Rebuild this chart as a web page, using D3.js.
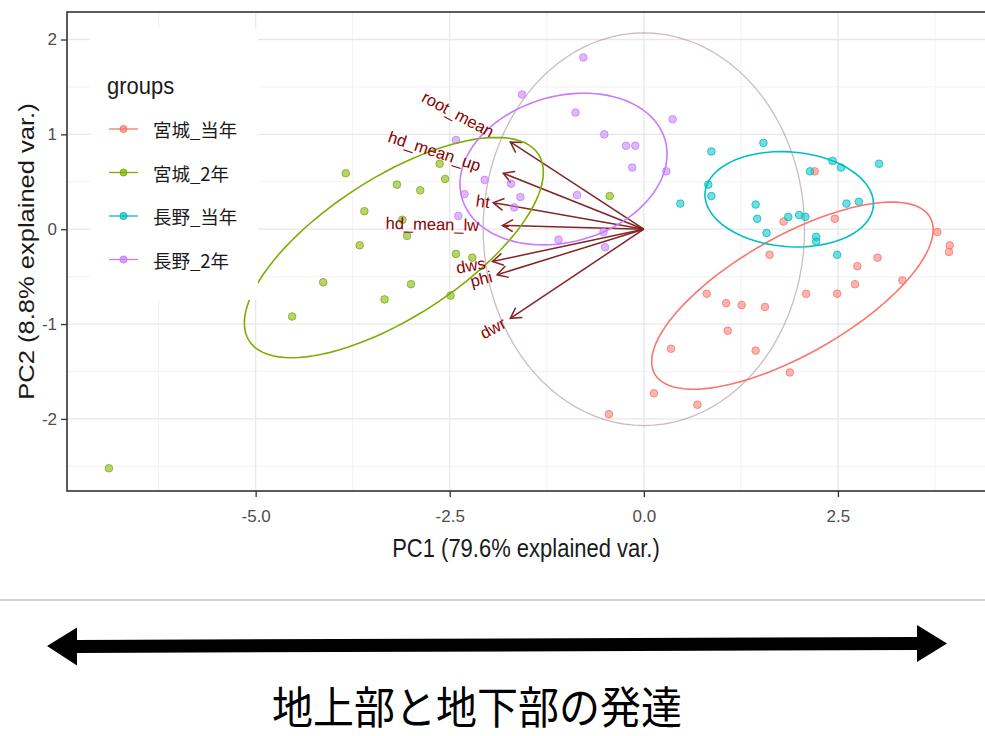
<!DOCTYPE html>
<html>
<head>
<meta charset="utf-8">
<script src="https://cdn.jsdelivr.net/npm/d3@7"></script>
<style>
  body { margin: 0; background: #fff; }
  svg { display: block; font-family: "Liberation Sans", Arial, sans-serif; }
</style>
</head>
<body>
<svg id="chart" width="985" height="736"></svg>
<script>
// groups and colours (ggplot hue palette)
var groups = ["宮城_当年", "宮城_2年", "長野_当年", "長野_2年"];
var groupColors = ["#F8766D", "#7CAE00", "#00BFC4", "#C77CFF"];

// PCA scores, [PC1, PC2]
var miyagiThisYear = [
  [2.20, 0.61], [1.80, 0.08], [2.46, 0.11], [3.78, -0.03], [3.94, -0.17], [3.93, -0.24],
  [1.62, -0.27], [3.01, -0.30], [2.75, -0.39], [3.33, -0.54], [2.72, -0.58], [2.09, -0.68],
  [2.49, -0.68], [0.81, -0.68], [1.06, -0.78], [1.26, -0.80], [1.56, -0.82], [1.08, -1.07],
  [0.35, -1.26], [1.44, -1.28], [1.88, -1.51], [0.13, -1.73], [0.69, -1.85], [-0.45, -1.95]
];
var miyagi2Year = [
  [-3.84, 0.59], [-3.18, 0.47], [-2.88, 0.41], [-2.63, 0.69], [-2.56, 0.53], [-3.60, 0.19],
  [-3.11, 0.10], [-3.05, -0.07], [-3.66, -0.17], [-2.42, -0.26], [-2.21, -0.30], [-4.13, -0.56],
  [-3.00, -0.58], [-3.34, -0.74], [-2.49, -0.70], [-4.53, -0.92], [-0.44, 0.35], [-6.89, -2.52]
];
var naganoThisYear = [
  [1.54, 0.91], [0.87, 0.82], [0.83, 0.47], [0.87, 0.35], [0.47, 0.27], [1.44, 0.26],
  [1.46, 0.11], [1.58, -0.04], [1.86, 0.13], [2.00, 0.15], [2.08, 0.13], [2.14, 0.61],
  [2.43, 0.72], [2.54, 0.65], [3.03, 0.69], [2.61, 0.27], [2.77, 0.29], [2.22, -0.08],
  [2.22, -0.13], [2.49, -0.27]
];
var nagano2Year = [
  [-0.78, 1.81], [-1.57, 1.42], [-0.88, 1.23], [0.37, 1.16], [-0.51, 1.00], [-0.23, 0.88],
  [-0.11, 0.88], [-0.15, 0.65], [0.29, 0.61], [-2.42, 0.94], [-2.05, 0.52], [-1.71, 0.48],
  [-1.59, 0.34], [-2.31, 0.37], [-1.67, 0.23], [-2.39, 0.14], [-0.86, 0.36], [-1.10, -0.11],
  [-0.50, -0.19], [-0.52, -0.03]
];
var groupScores = [miyagiThisYear, miyagi2Year, naganoThisYear, nagano2Year];

// variable loadings (arrow tips)
var varNames = ["root_mean", "hd_mean_up", "ht", "hd_mean_lw", "dws", "phi", "dwr"];
var varPC1 = [-1.72, -1.81, -1.94, -1.82, -1.95, -1.89, -1.72];
var varPC2 = [0.92, 0.59, 0.28, 0.04, -0.34, -0.48, -0.94];

var xTicks = [-5, -2.5, 0, 2.5];
var yTicks = [-2, -1, 0, 1, 2];
var xMinor = [-6.25, -3.75, -1.25, 1.25, 3.75];
var yMinor = [-2.5, -1.5, -0.5, 0.5, 1.5];

var svg = d3.select("#chart"),
    panel = { left: 67, top: 12, right: 987, bottom: 491 };

var x = d3.scaleLinear().domain([-7.43, 4.42]).range([panel.left, panel.right]);
var y = d3.scaleLinear().domain([-2.76, 2.29]).range([panel.bottom, panel.top]);

svg.append("rect").attr("width", 985).attr("height", 736).attr("fill", "#fff");

var g = svg.append("g");

// grid lines
g.selectAll(".xminor").data(xMinor).enter().append("line")
    .attr("x1", function (d) { return x(d); }).attr("x2", function (d) { return x(d); })
    .attr("y1", panel.top).attr("y2", panel.bottom)
    .attr("stroke", "#f2f2f2").attr("stroke-width", 1);
g.selectAll(".yminor").data(yMinor).enter().append("line")
    .attr("y1", function (d) { return y(d); }).attr("y2", function (d) { return y(d); })
    .attr("x1", panel.left).attr("x2", panel.right)
    .attr("stroke", "#f2f2f2").attr("stroke-width", 1);
g.selectAll(".xmajor").data(xTicks).enter().append("line")
    .attr("x1", function (d) { return x(d); }).attr("x2", function (d) { return x(d); })
    .attr("y1", panel.top).attr("y2", panel.bottom)
    .attr("stroke", "#e8e8e8").attr("stroke-width", 1.3);
g.selectAll(".ymajor").data(yTicks).enter().append("line")
    .attr("y1", function (d) { return y(d); }).attr("y2", function (d) { return y(d); })
    .attr("x1", panel.left).attr("x2", panel.right)
    .attr("stroke", "#e8e8e8").attr("stroke-width", 1.3);

// correlation circle, radius as ggbiplot computes it
var allScores = [].concat.apply([], groupScores);
var msX = d3.mean(allScores, function (d) { return d[0] * d[0]; }),
    msY = d3.mean(allScores, function (d) { return d[1] * d[1]; });
var circleR = Math.sqrt(-2 * Math.log(1 - 0.69)) * Math.pow(msX * msY, 0.25);
var theta = d3.range(0, 101).map(function (i) { return -Math.PI + i * 2 * Math.PI / 100; });
var line = d3.line().x(function (d) { return x(d[0]); }).y(function (d) { return y(d[1]); });
g.append("path")
    .attr("d", line(theta.map(function (t) { return [circleR * Math.cos(t), circleR * Math.sin(t)]; })))
    .attr("fill", "none").attr("stroke", "#8a5266").attr("stroke-opacity", 0.4).attr("stroke-width", 1.3);

// variable arrows
var arrowColor = "#832424";
varNames.forEach(function (name, i) {
    var x0 = x(0), y0 = y(0), x1 = x(varPC1[i]), y1 = y(varPC2[i]);
    var a = Math.atan2(y1 - y0, x1 - x0), len = 12, spread = Math.PI / 6;
    g.append("line").attr("x1", x0).attr("y1", y0).attr("x2", x1).attr("y2", y1)
        .attr("stroke", arrowColor).attr("stroke-width", 1.5);
    g.append("path")
        .attr("d", "M" + (x1 - len * Math.cos(a - spread)) + "," + (y1 - len * Math.sin(a - spread)) +
            "L" + x1 + "," + y1 +
            "L" + (x1 - len * Math.cos(a + spread)) + "," + (y1 - len * Math.sin(a + spread)))
        .attr("fill", "none").attr("stroke", arrowColor).attr("stroke-width", 1.5);
});

// points
groupScores.forEach(function (pts, gi) {
    g.selectAll(".pt" + gi).data(pts).enter().append("circle")
        .attr("cx", function (d) { return x(d[0]); })
        .attr("cy", function (d) { return y(d[1]); })
        .attr("r", 3.8)
        .attr("fill", groupColors[gi]).attr("fill-opacity", 0.55)
        .attr("stroke", groupColors[gi]).attr("stroke-opacity", 0.8).attr("stroke-width", 1);
});

// 68% normal ellipses per group (ggbiplot style)
var ed = Math.sqrt(-2 * Math.log(1 - 0.68));
groupScores.forEach(function (pts, gi) {
    var mx = d3.mean(pts, function (d) { return d[0]; }),
        my = d3.mean(pts, function (d) { return d[1]; }),
        n = pts.length;
    var sxx = d3.sum(pts, function (d) { return (d[0] - mx) * (d[0] - mx); }) / (n - 1),
        syy = d3.sum(pts, function (d) { return (d[1] - my) * (d[1] - my); }) / (n - 1),
        sxy = d3.sum(pts, function (d) { return (d[0] - mx) * (d[1] - my); }) / (n - 1);
    var ca = Math.sqrt(sxx), cb = sxy / ca, cc = Math.sqrt(syy - cb * cb);
    var ell = theta.map(function (t) {
        var u = Math.cos(t), v = Math.sin(t);
        return [mx + ed * ca * u, my + ed * (cb * u + cc * v)];
    });
    g.append("path").attr("d", line(ell))
        .attr("fill", "none").attr("stroke", groupColors[gi]).attr("stroke-width", 1.6);
});

// variable names (hjust 1.25 like ggbiplot)
varNames.forEach(function (name, i) {
    var ang = Math.atan(varPC2[i] / varPC1[i]) * 180 / Math.PI;
    var lg = g.append("g")
        .attr("transform", "translate(" + x(varPC1[i]) + "," + y(varPC2[i]) + ") rotate(" + (-ang) + ")");
    var t = lg.append("text").text(name)
        .attr("text-anchor", "end").attr("dominant-baseline", "central")
        .attr("font-size", 16.5).attr("fill", "#8B0000");
    var w = t.node().getComputedTextLength();
    t.attr("x", -0.25 * w);
});

// legend
var legend = svg.append("g");
legend.append("rect").attr("x", 90).attr("y", 28).attr("width", 168).attr("height", 272).attr("fill", "#fff");
legend.append("text").attr("transform", "translate(107,94) scale(1,1.1)").text("groups")
    .attr("font-size", 22).attr("fill", "#1a1a1a");
groups.forEach(function (name, i) {
    var ky = 129 + i * 43.5;
    legend.append("line").attr("x1", 109).attr("x2", 138).attr("y1", ky).attr("y2", ky)
        .attr("stroke", groupColors[i]).attr("stroke-width", 1.3);
    legend.append("circle").attr("cx", 123.5).attr("cy", ky).attr("r", 3.5)
        .attr("fill", groupColors[i]).attr("fill-opacity", 0.7).attr("stroke", groupColors[i]);
    legend.append("text").attr("x", 153).attr("y", ky).attr("dominant-baseline", "central")
        .attr("font-family", "'Noto Sans CJK JP', sans-serif")
        .attr("font-size", 18.5).attr("fill", "#1a1a1a").text(name);
});

// panel border
svg.append("rect").attr("x", panel.left).attr("y", panel.top)
    .attr("width", panel.right - panel.left).attr("height", panel.bottom - panel.top)
    .attr("fill", "none").attr("stroke", "#333").attr("stroke-width", 1.6);

// axes
var xAxis = svg.append("g").attr("transform", "translate(0," + panel.bottom + ")")
    .call(d3.axisBottom(x).tickValues(xTicks)
        .tickFormat(function (d) { return d.toFixed(1); }).tickSize(6).tickPadding(13));
var yAxis = svg.append("g").attr("transform", "translate(" + panel.left + ",0)")
    .call(d3.axisLeft(y).tickValues(yTicks)
        .tickFormat(function (d) { return String(d); }).tickSize(6).tickPadding(4));
[xAxis, yAxis].forEach(function (ax) {
    ax.select(".domain").remove();
    ax.selectAll(".tick line").attr("stroke", "#333").attr("stroke-width", 1.3);
    ax.selectAll(".tick text").attr("fill", "#4d4d4d").attr("font-size", 17)
        .attr("font-family", "'Liberation Sans', Arial, sans-serif");
});

// axis titles (the picture is stretched a little vertically)
svg.append("text").attr("transform", "translate(" + ((panel.left + 985) / 2) + ",557) scale(1,1.15)")
    .attr("text-anchor", "middle").attr("font-size", 22).attr("fill", "#1a1a1a")
    .text("PC1 (79.6% explained var.)");
svg.append("text")
    .attr("transform", "translate(34," + ((panel.top + panel.bottom) / 2) + ") scale(1,1.16) rotate(-90)")
    .attr("text-anchor", "middle").attr("font-size", 22).attr("fill", "#1a1a1a")
    .text("PC2 (8.8% explained var.)");

// separator and the double arrow below
svg.append("line").attr("x1", 0).attr("x2", 985).attr("y1", 600).attr("y2", 600)
    .attr("stroke", "#c4c4c4").attr("stroke-width", 1.5);
svg.append("path")
    .attr("d", "M47,646 L77,627.5 L77,640 L917,637 L917,625 L947,643.5 L917,662 L917,650 L77,653 L77,665.5 Z")
    .attr("fill", "#000");
svg.append("text")
    .attr("transform", "translate(477,705) scale(1,1.08)")
    .attr("text-anchor", "middle").attr("dominant-baseline", "central")
    .attr("font-family", "'Noto Sans CJK JP', sans-serif")
    .attr("font-size", 41).attr("fill", "#000")
    .text("地上部と地下部の発達");
</script>
</body>
</html>
